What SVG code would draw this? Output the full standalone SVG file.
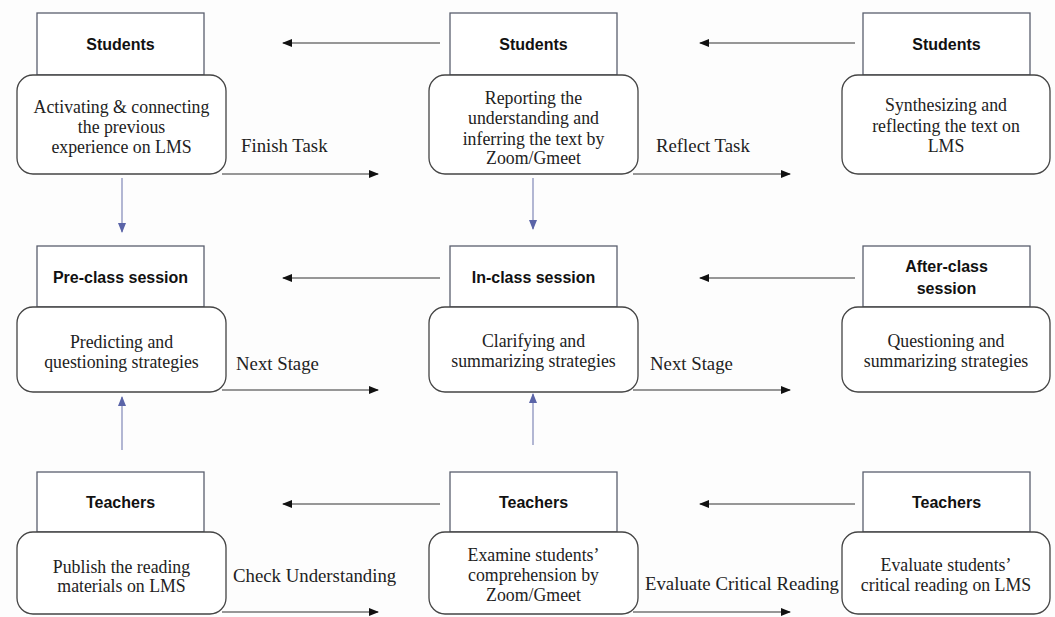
<svg xmlns="http://www.w3.org/2000/svg" width="1055" height="617" viewBox="0 0 1055 617">
<style>
.hdr{fill:#fff;stroke:#5a5f6e;stroke-width:1.3}
.body{fill:#fff;stroke:#444;stroke-width:1.3}
.ht{font-family:"Liberation Sans",Arial,sans-serif;font-weight:bold;font-size:16px;fill:#111;text-anchor:middle}
.bt{font-family:"Liberation Serif","Times New Roman",serif;font-size:17.8px;fill:#222;text-anchor:middle}
.lb{font-family:"Liberation Serif","Times New Roman",serif;font-size:18.8px;fill:#222}
.ah{stroke:#333;stroke-width:1.2;fill:none}
.av{stroke:#8088b8;stroke-width:1.2;fill:none}
</style>
<defs>
<marker id="mk" markerWidth="10" markerHeight="8" refX="9" refY="4" orient="auto" markerUnits="userSpaceOnUse">
<path d="M0,0 L10,4 L0,8 Z" fill="#111"/>
</marker>
<marker id="mb" markerWidth="10" markerHeight="8" refX="9" refY="4" orient="auto" markerUnits="userSpaceOnUse">
<path d="M0,0 L10,4 L0,8 Z" fill="#5a64a8"/>
</marker>
</defs>
<rect width="1055" height="617" fill="#fdfdfd"/>

<g id="connectors">
<line class="ah" x1="440" y1="43" x2="283" y2="43" marker-end="url(#mk)"/>
<line class="ah" x1="855" y1="43" x2="700" y2="43" marker-end="url(#mk)"/>
<line class="ah" x1="222" y1="174" x2="378" y2="174" marker-end="url(#mk)"/>
<line class="ah" x1="633" y1="174" x2="790" y2="174" marker-end="url(#mk)"/>
<line class="av" x1="122" y1="178" x2="122" y2="232" marker-end="url(#mb)"/>
<line class="av" x1="533" y1="178" x2="533" y2="229" marker-end="url(#mb)"/>
<line class="ah" x1="440" y1="278" x2="283" y2="278" marker-end="url(#mk)"/>
<line class="ah" x1="855" y1="278" x2="700" y2="278" marker-end="url(#mk)"/>
<line class="ah" x1="222" y1="390" x2="378" y2="390" marker-end="url(#mk)"/>
<line class="ah" x1="633" y1="390" x2="790" y2="390" marker-end="url(#mk)"/>
<line class="av" x1="122" y1="450" x2="122" y2="397" marker-end="url(#mb)"/>
<line class="av" x1="533" y1="445" x2="533" y2="394" marker-end="url(#mb)"/>
<line class="ah" x1="440" y1="504" x2="283" y2="504" marker-end="url(#mk)"/>
<line class="ah" x1="855" y1="504" x2="700" y2="504" marker-end="url(#mk)"/>
<line class="ah" x1="222" y1="612" x2="378" y2="612" marker-end="url(#mk)"/>
<line class="ah" x1="633" y1="612" x2="790" y2="612" marker-end="url(#mk)"/>
<text class="lb" x="241" y="152">Finish Task</text>
<text class="lb" x="656" y="152">Reflect Task</text>
<text class="lb" x="236" y="370">Next Stage</text>
<text class="lb" x="650" y="370">Next Stage</text>
<text class="lb" x="233" y="582">Check Understanding</text>
<text class="lb" x="645" y="590">Evaluate Critical Reading</text>
</g>

<g id="n-students-1">
<rect class="hdr" x="37" y="13" width="167" height="62"/>
<text class="ht" x="120.5" y="50">Students</text>
<rect class="body" x="17" y="75" width="209" height="99" rx="16"/>
<text class="bt" x="121.5" y="113">Activating &amp; connecting</text>
<text class="bt" x="121.5" y="133">the previous</text>
<text class="bt" x="121.5" y="153">experience on LMS</text>
</g>
<g id="n-students-2">
<rect class="hdr" x="450" y="13" width="167" height="62"/>
<text class="ht" x="533.5" y="50">Students</text>
<rect class="body" x="429" y="75" width="209" height="99" rx="16"/>
<text class="bt" x="533.5" y="104">Reporting the</text>
<text class="bt" x="533.5" y="124">understanding and</text>
<text class="bt" x="533.5" y="145">inferring the text by</text>
<text class="bt" x="533.5" y="164">Zoom/Gmeet</text>
</g>
<g id="n-students-3">
<rect class="hdr" x="863" y="13" width="167" height="62"/>
<text class="ht" x="946.5" y="50">Students</text>
<rect class="body" x="842" y="75" width="208" height="99" rx="16"/>
<text class="bt" x="946" y="111">Synthesizing and</text>
<text class="bt" x="946" y="132">reflecting the text on</text>
<text class="bt" x="946" y="152">LMS</text>
</g>

<g id="n-preclass">
<rect class="hdr" x="37" y="246" width="167" height="61"/>
<text class="ht" x="120.5" y="283">Pre-class session</text>
<rect class="body" x="17" y="307" width="209" height="85" rx="16"/>
<text class="bt" x="121.5" y="348">Predicting and</text>
<text class="bt" x="121.5" y="368">questioning strategies</text>
</g>
<g id="n-inclass">
<rect class="hdr" x="450" y="246" width="167" height="61"/>
<text class="ht" x="533.5" y="283">In-class session</text>
<rect class="body" x="429" y="307" width="209" height="85" rx="16"/>
<text class="bt" x="533.5" y="347">Clarifying and</text>
<text class="bt" x="533.5" y="367">summarizing strategies</text>
</g>
<g id="n-afterclass">
<rect class="hdr" x="863" y="246" width="167" height="61"/>
<text class="ht" x="946.5" y="272">After-class</text>
<text class="ht" x="946.5" y="294">session</text>
<rect class="body" x="842" y="307" width="208" height="85" rx="16"/>
<text class="bt" x="946" y="347">Questioning and</text>
<text class="bt" x="946" y="367">summarizing strategies</text>
</g>

<g id="n-teachers-1">
<rect class="hdr" x="37" y="472" width="167" height="60"/>
<text class="ht" x="120.5" y="508">Teachers</text>
<rect class="body" x="17" y="532" width="209" height="82" rx="16"/>
<text class="bt" x="121.5" y="573">Publish the reading</text>
<text class="bt" x="121.5" y="592">materials on LMS</text>
</g>
<g id="n-teachers-2">
<rect class="hdr" x="450" y="472" width="167" height="60"/>
<text class="ht" x="533.5" y="508">Teachers</text>
<rect class="body" x="429" y="532" width="209" height="82" rx="16"/>
<text class="bt" x="533.5" y="561">Examine students’</text>
<text class="bt" x="533.5" y="581">comprehension by</text>
<text class="bt" x="533.5" y="601">Zoom/Gmeet</text>
</g>
<g id="n-teachers-3">
<rect class="hdr" x="863" y="472" width="167" height="60"/>
<text class="ht" x="946.5" y="508">Teachers</text>
<rect class="body" x="842" y="532" width="208" height="82" rx="16"/>
<text class="bt" x="946" y="571">Evaluate students’</text>
<text class="bt" x="946" y="591">critical reading on LMS</text>
</g>
</svg>
